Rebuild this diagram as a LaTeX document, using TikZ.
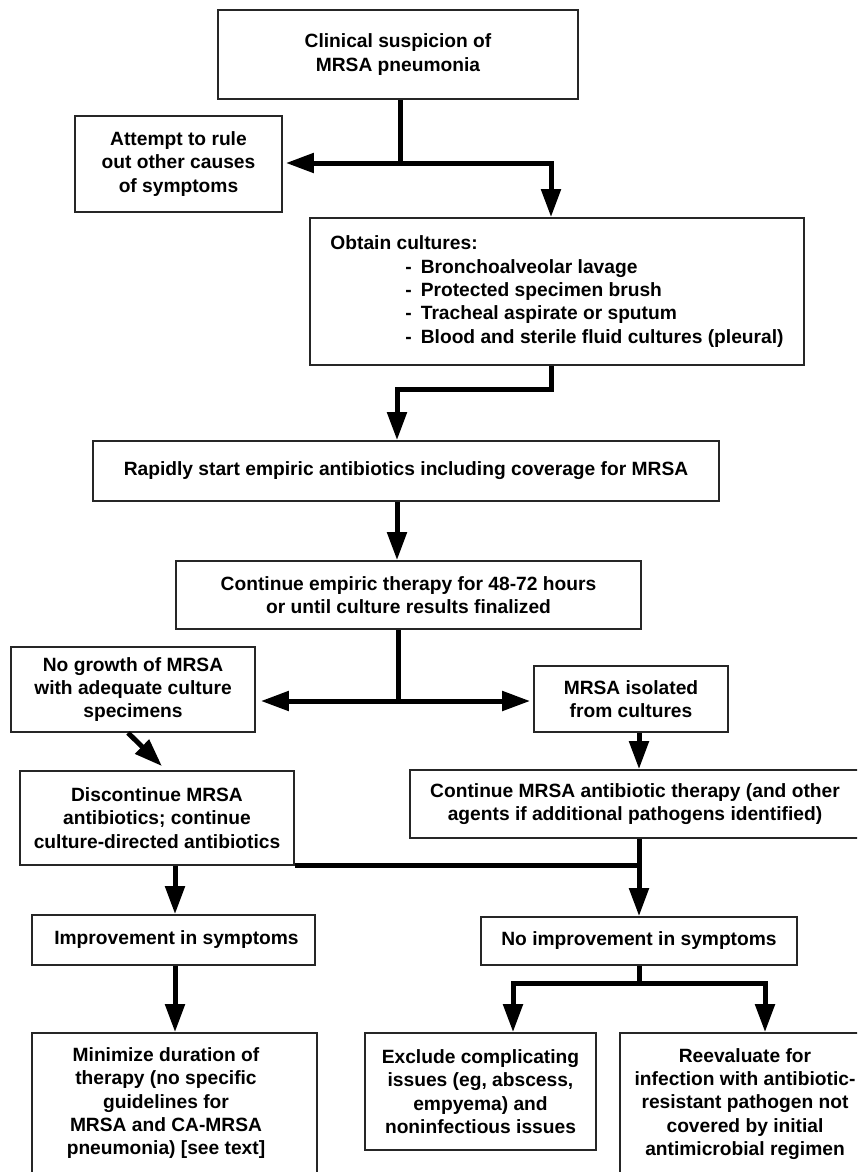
\documentclass[tikz,border=0pt]{standalone}
\usepackage{fontspec}
\setmainfont{Liberation Sans}
\usetikzlibrary{arrows.meta}
\begin{document}
\begin{tikzpicture}[x=1pt,y=-1pt,
  box/.style={draw=black!85,line width=1.7pt,rectangle,inner sep=0pt,align=center,
    font=\fontsize{19.2}{23.3}\selectfont\bfseries},
  conn/.style={line width=5pt,-{Triangle[length=28pt,width=19pt]}},
  link/.style={line width=5pt}]
\useasboundingbox (0,0) rectangle (857,1172);
\clip (0,0) rectangle (857,1172);
\fill[white] (0,0) rectangle (857,1172);

\node[box,minimum width=360pt,minimum height=89pt] (b1) at (398,54.5) {Clinical suspicion of\\MRSA pneumonia};
\node[box,minimum width=207pt,minimum height=96pt] (b2) at (178.5,164) {Attempt to rule\\out other causes\\of symptoms};
\node[box,minimum width=494pt,minimum height=147pt,align=left] (b3) at (557,291.5)
  {Obtain cultures:\\
   \hspace*{75pt}-\hspace*{9pt}Bronchoalveolar lavage\\
   \hspace*{75pt}-\hspace*{9pt}Protected specimen brush\\
   \hspace*{75pt}-\hspace*{9pt}Tracheal aspirate or sputum\\
   \hspace*{75pt}-\hspace*{9pt}Blood and sterile fluid cultures (pleural)};
\node[box,minimum width=626pt,minimum height=60pt] (b4) at (406,471) {Rapidly start empiric antibiotics including coverage for MRSA};
\node[box,minimum width=465pt,minimum height=68pt] (b5) at (408.5,595) {Continue empiric therapy for 48-72 hours\\or until culture results finalized};
\node[box,minimum width=244pt,minimum height=85pt] (b6) at (133,689.5) {No growth of MRSA\\with adequate culture\\specimens};
\node[box,minimum width=194pt,minimum height=66pt] (b7) at (631,699) {MRSA isolated\\from cultures};
\node[box,minimum width=274pt,minimum height=94pt] (b8) at (157,818) {Discontinue MRSA\\antibiotics; continue\\culture-directed antibiotics};
\node[box,minimum width=450pt,minimum height=68pt] (b9) at (635,804) {Continue MRSA antibiotic therapy (and other\\agents if additional pathogens identified)};
\node[box,minimum width=283pt,minimum height=50pt] (b10) at (173.5,940) {\hspace*{6pt}Improvement in symptoms};
\node[box,minimum width=285pt,minimum height=141pt] (b12) at (174.5,1103.5)
  {\hspace*{-17pt}\begin{tabular}{@{}c@{}}Minimize duration of\\therapy (no specific\\guidelines for\\MRSA and CA-MRSA\\pneumonia) [see text]\end{tabular}};
\node[box,minimum width=316pt,minimum height=48pt] (b11) at (639,941) {No improvement in symptoms};
\node[box,minimum width=231pt,minimum height=117pt] (b13) at (480.5,1091.5) {Exclude complicating\\issues (eg, abscess,\\empyema) and\\noninfectious issues};
\node[box,minimum width=250pt,minimum height=142pt] (b14) at (745,1104) {Reevaluate for\\infection with antibiotic-\\resistant pathogen not\\covered by initial\\antimicrobial regimen};

% junctions
\coordinate (j1) at (400,163);
\coordinate (j2) at (397,389);
\coordinate (j3) at (398,701);
\coordinate (j4) at (639,865);
\coordinate (j5) at (639,983);

\draw[link] (j1 |- b1.south) -- (j1);
\draw[conn] (j1) -- ([xshift=3pt]j1 -| b2.east);
\draw[conn] (j1) -| ([xshift=-6pt]b3.north);

\draw[conn] ([xshift=-6pt]b3.south) |- (j2) -- (j2 |- b4.north);
\draw[conn] (j2 |- b4.south) -- (j2 |- b5.north);

\draw[link] (j3 |- b5.south) -- (j3);
\draw[conn] (j3) -- ([xshift=5pt]j3 -| b6.east);
\draw[conn] (j3) -- ([xshift=-3pt]j3 -| b7.west);

\draw[conn] ([xshift=-5pt]b6.south) -- ([xshift=5pt,yshift=4pt]b8.north);
\draw[conn] ([xshift=8pt]b7.south) -- ([xshift=8pt]b7.south |- b9.north);

\draw[link] (j4 |- b9.south) -- (j4);
\draw[link] (j4 -| b8.east) -- (j4);
\draw[conn] (j4) -- (j4 |- b11.north);
\draw[conn] ([xshift=18pt]b8.south) -- ([xshift=18pt]b8.south |- b10.north);

\draw[conn] ([xshift=1.5pt]b10.south) -- ([xshift=1.5pt]b10.south |- b12.north);

\draw[link] (b11.south) -- (j5);
\draw[conn] (j5) -| ([xshift=32.5pt]b13.north);
\draw[conn] (j5) -| ([xshift=20pt]b14.north);
\end{tikzpicture}
\end{document}
